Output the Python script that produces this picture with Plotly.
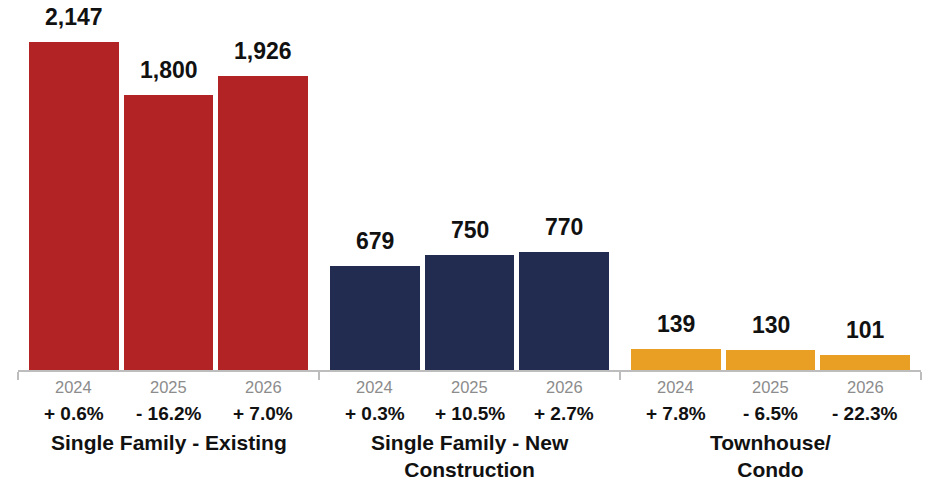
import plotly.graph_objects as go

# Home sales by segment, with year-over-year change
groups = ["Single Family - Existing", "Single Family - New<br>Construction", "Townhouse/<br>Condo"]
years = ["2024", "2025", "2026"]
sf_existing = [2147, 1800, 1926]
sf_new = [679, 750, 770]
townhouse_condo = [139, 130, 101]
pct_sf_existing = ["+ 0.6%", "- 16.2%", "+ 7.0%"]
pct_sf_new = ["+ 0.3%", "+ 10.5%", "+ 2.7%"]
pct_townhouse_condo = ["+ 7.8%", "- 6.5%", "- 22.3%"]

series = [sf_existing, sf_new, townhouse_condo]
pcts = [pct_sf_existing, pct_sf_new, pct_townhouse_condo]
colors = ["#B12325", "#222C51", "#E89F23"]

GROUP_STEP = 3.17   # distance between the first bars of consecutive groups
EDGE = 0.585        # distance from outer bar centre to group divider
BAR_W = 0.947

FONT = "Liberation Sans, Arial, sans-serif"

fig = go.Figure()
annotations = []
edges = []
for g, (vals, pc, col) in enumerate(zip(series, pcts, colors)):
    xs = [g * GROUP_STEP + i for i in range(len(vals))]
    fig.add_trace(go.Bar(
        x=xs, y=vals, width=BAR_W, marker=dict(color=col, line=dict(width=0)),
        showlegend=False, hoverinfo="skip",
    ))
    edges.append(xs[0] - EDGE)
    for x, v, yr, p in zip(xs, vals, years, pc):
        annotations.append(dict(
            x=x, y=v, xref="x", yref="y", text=f"<b>{v:,}</b>", showarrow=False,
            yanchor="middle", yshift=25, font=dict(family=FONT, size=23, color="#111111"),
        ))
        annotations.append(dict(
            x=x, y=0, xref="x", yref="paper", text=yr, showarrow=False,
            yanchor="middle", yshift=-17, font=dict(family=FONT, size=16.5, color="#8C8C8C"),
        ))
        annotations.append(dict(
            x=x, y=0, xref="x", yref="paper", text=f"<b>{p}</b>", showarrow=False,
            yanchor="middle", yshift=-43, font=dict(family=FONT, size=19, color="#111111"),
        ))
    annotations.append(dict(
        x=xs[1], y=0, xref="x", yref="paper", text=f"<b>{groups[g]}</b>", showarrow=False,
        yanchor="top", yshift=-59, font=dict(family=FONT, size=21, color="#111111"),
    ))
edges.append(2 * GROUP_STEP + 2 + EDGE)

fig.update_layout(
    width=930, height=481,
    margin=dict(l=18, r=9, t=0, b=111),
    paper_bgcolor="white", plot_bgcolor="white",
    bargap=0,
    annotations=annotations,
    xaxis=dict(
        range=[edges[0], edges[-1]], tickvals=edges, showticklabels=False,
        ticks="outside", ticklen=8, tickwidth=2, tickcolor="#BDBDBD",
        showline=True, linecolor="#BDBDBD", linewidth=2,
        showgrid=False, zeroline=False, fixedrange=True,
    ),
    yaxis=dict(range=[0, 2421], visible=False, showgrid=False, zeroline=False, fixedrange=True),
)

fig.write_html("out.html", config={"displayModeBar": False})
